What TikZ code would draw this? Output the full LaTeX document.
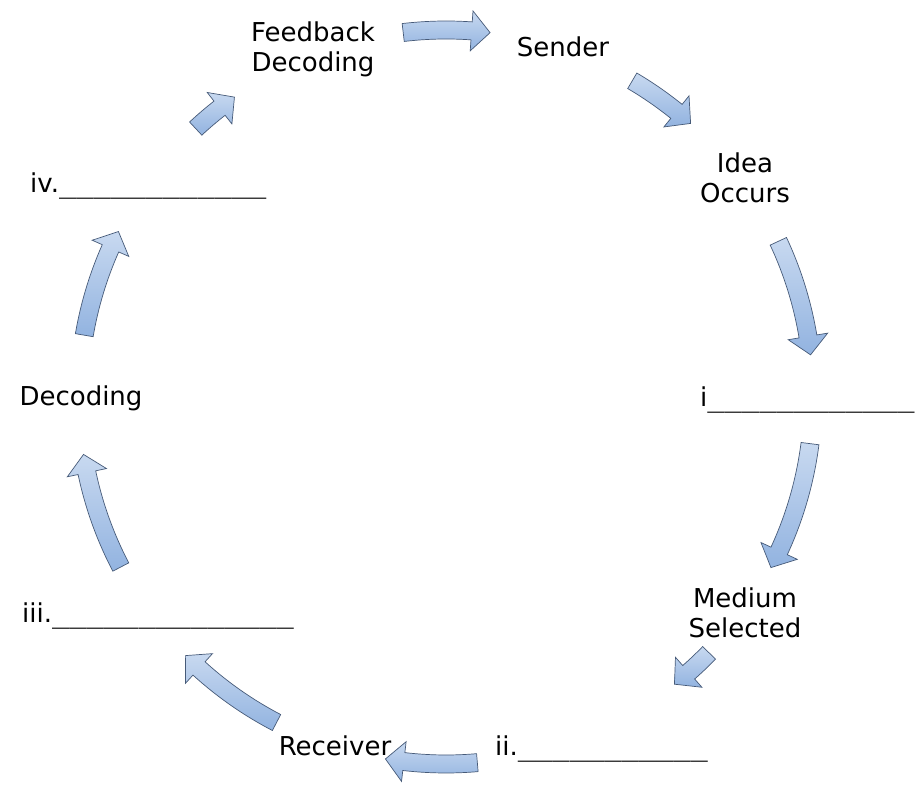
\documentclass[tikz,border=0pt]{standalone}
\usepackage{fontspec}
\setmainfont{DejaVu Sans}
\newfontfamily\blankfont{DejaVu Sans Mono}

\definecolor{arrowtop}{RGB}{200,217,240}
\definecolor{arrowbottom}{RGB}{146,179,224}
\definecolor{arrowline}{RGB}{70,90,120}

% blank answer lines, set in a monospaced face so every stroke has the same length
\newcommand\blankline[1]{{\blankfont\fontsize{28.7}{30}\selectfont#1}}

% ring geometry (pt): middle, outer and inner radius of the shaft, head barbs
\def\Rmid{367pt}
\def\Rout{376pt}
\def\Rin{358pt}
\def\Rbo{387pt}
\def\Rbi{347pt}
\def\headang{2.9}

% curved block arrow along the ring, clockwise from compass angle #1 (tail) to #2 (tip)
\newcommand\cyclearrow[2]{%
  \pgfmathsetmacro\angA{90-#1}%
  \pgfmathsetmacro\angT{90-#2}%
  \pgfmathsetmacro\angB{\angT+\headang}%
  \path[ringarrow,shift={(C)}]
    (\angA:\Rout) arc[start angle=\angA, end angle=\angB, radius=\Rout]
    -- (\angB:\Rbo) -- (\angT:\Rmid) -- (\angB:\Rbi) -- (\angB:\Rin)
    arc[start angle=\angB, end angle=\angA, radius=\Rin] -- cycle;%
}

\begin{document}
\begin{tikzpicture}[x=1pt,y=1pt,
  lbl/.style={font=\fontsize{26}{30}\selectfont, inner sep=0pt, align=center, text=black},
  ringarrow/.style={draw=arrowline, line width=0.7pt, line join=miter,
    top color=arrowtop, bottom color=arrowbottom}]
\useasboundingbox (0,0) rectangle (923,785);
\coordinate (C) at (446,388);

% arrows between the stages
\cyclearrow{353.3}{366.9}
\cyclearrow{30.5}{41.8}
\cyclearrow{64.9}{83.4}
\cyclearrow{97.3}{117.7}
\cyclearrow{134.2}{141.5}
\cyclearrow{175.1}{189.5}
\cyclearrow{207.5}{225.2}
\cyclearrow{242.4}{261}
\cyclearrow{279.7}{296.8}
\cyclearrow{317}{324.8}

% stage labels
\node[lbl] (feedback) at (313,736) {Feedback\\Decoding};
\node[lbl,anchor=base] (sender) at (563,728) {Sender};
\node[lbl] (idea) at (745,607) {Idea\\Occurs};
\node[lbl,anchor=base west] (blanki) at (700,378) {i\blankline{\_\_\_\_\_\_\_\_\_\_\_\_}};
\node[lbl] (medium) at (745,172) {Medium\\Selected};
\node[lbl,anchor=base west] (blankii) at (495,30) {ii.\blankline{\_\_\_\_\_\_\_\_\_\_\_}};
\node[lbl,anchor=base] (receiver) at (335,30) {Receiver};
\node[lbl,anchor=base west] (blankiii) at (22,163) {iii.\blankline{\_\_\_\_\_\_\_\_\_\_\_\_\_\_}};
\node[lbl,anchor=base] (decoding) at (81,379) {Decoding};
\node[lbl,anchor=base west] (blankiv) at (30,592) {iv.\blankline{\_\_\_\_\_\_\_\_\_\_\_\_}};
\end{tikzpicture}
\end{document}
